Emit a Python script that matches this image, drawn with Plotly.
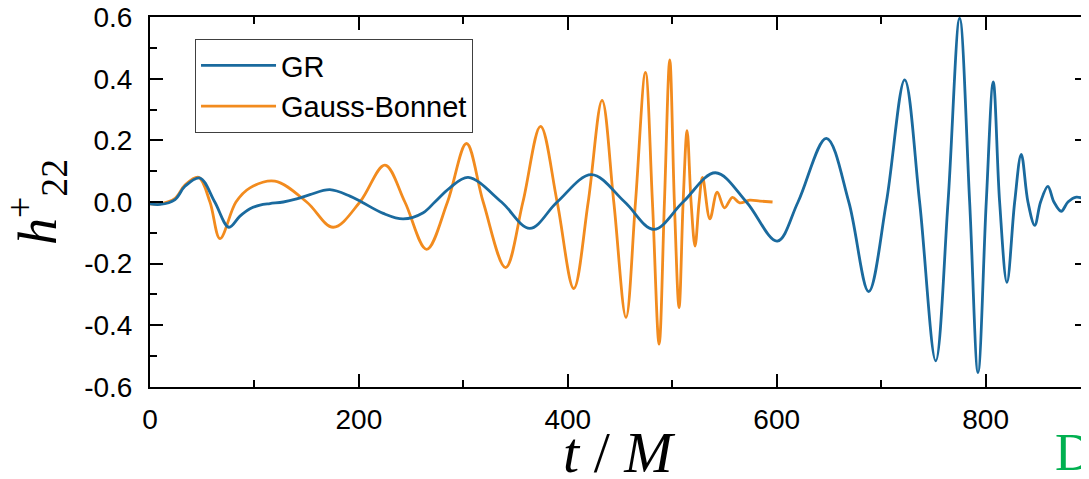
import plotly.graph_objects as go

# ---- data ----
gr_t = [0, 9.6, 24, 33.5, 47.8, 62, 75.5, 86.1, 95.7, 105.3, 114.8, 127.6, 140.4, 153.1, 172.2,
        191.4, 202.6, 223.3, 242.4, 261.6, 272.7, 287.1, 304.6, 336.5, 363.6, 389.8, 422.6,
        454.5, 482.3, 510.3, 541.3, 571, 600.5, 620.4, 647.5, 669, 688, 705, 722.5, 736.8,
        752.2, 764, 775.1, 784.7, 792.7, 800.6, 807.3, 813.4, 820.4, 827.8, 834.1, 840.5,
        847, 852.6, 859.6, 865.4, 872.4, 878.8, 886.8, 898]
gr_h = [-0.006, -0.008, 0.008, 0.051, 0.078, 0.0, -0.082, -0.046, -0.022, -0.010, -0.005, 0.0,
        0.010, 0.024, 0.040, 0.019, 0.0, -0.037, -0.055, -0.035, 0.0, 0.046, 0.080, 0.0, -0.086,
        0.0, 0.089, 0.0, -0.089, 0.0, 0.095, 0.0, -0.127, 0.0, 0.207, 0.0, -0.291, 0.0, 0.397,
        0.0, -0.516, 0.0, 0.597, 0.0, -0.554, 0.0, 0.390, 0.0, -0.261, 0.0, 0.155, 0.0, -0.076,
        0.0, 0.051, 0.0, -0.030, 0.0, 0.016, 0.005]

gb_t = [0, 9.6, 24, 33.5, 46.5, 57.4, 67, 82.3, 95.7, 119.6, 150, 175.4, 201, 224.9, 244,
        264.8, 284.8, 303, 319, 340.4, 357, 373.9, 389.8, 405.7, 419.5, 432.8, 444, 455.7,
        464.8, 474.3, 481, 487.4, 492.5, 497.6, 502, 506.5, 510.4, 514.2, 518, 521.8, 525.7,
        529, 536, 543, 550, 557.6, 564.6, 574, 584, 596]
gb_h = [-0.006, -0.006, 0.012, 0.055, 0.080, 0.0, -0.119, 0.0, 0.046, 0.068, 0.0, -0.082, 0.0,
        0.120, 0.0, -0.154, 0.0, 0.190, 0.0, -0.213, 0.0, 0.246, 0.0, -0.281, 0.0, 0.330, 0.0,
        -0.375, 0.0, 0.421, 0.0, -0.462, 0.0, 0.462, 0.0, -0.343, 0.0, 0.232, 0.0, -0.143, 0.0,
        0.080, -0.055, 0.032, -0.019, 0.015, -0.003, 0.006, 0.003, 0.0]

x_ticks = [0, 200, 400, 600, 800]
x_ticktext = ["0", "200", "400", "600", "800"]
y_ticks = [-0.6, -0.4, -0.2, 0.0, 0.2, 0.4, 0.6]
y_ticktext = ["-0.6", "-0.4", "-0.2", "0.0", "0.2", "0.4", "0.6"]

BLUE = "#1a6a9e"
ORANGE = "#f28b1e"
SANS = "Liberation Sans, Arial, sans-serif"
SERIF = "Liberation Serif, Times New Roman, serif"

fig = go.Figure()
fig.add_trace(go.Scatter(x=gb_t, y=gb_h, mode="lines", name="Gauss-Bonnet",
                         line=dict(color=ORANGE, width=2.8, shape="spline", smoothing=1.0)))
fig.add_trace(go.Scatter(x=gr_t, y=gr_h, mode="lines", name="GR",
                         line=dict(color=BLUE, width=2.8, shape="spline", smoothing=1.0)))

fig.update_layout(
    # the page body adds an 8 px margin, so the figure is 8 px smaller each way
    width=1081, height=471,
    margin=dict(l=142, r=1, t=9, b=92, pad=0, autoexpand=False),
    paper_bgcolor="white", plot_bgcolor="white",
    xaxis=dict(
        range=[0, 898], tickvals=x_ticks, ticktext=x_ticktext,
        showline=True, linewidth=2, linecolor="black", mirror="ticks",
        ticks="inside", ticklen=13, tickwidth=2, tickcolor="black",
        minor=dict(ticks="inside", ticklen=7, tickwidth=2, tickcolor="black",
                   tick0=0, dtick=100),
        showgrid=False, zeroline=False, ticklabelstandoff=6,
        ticklabeloverflow="allow", automargin=False,
        tickfont=dict(family=SANS, size=28, color="black"),
    ),
    yaxis=dict(
        range=[-0.601, 0.601], tickvals=y_ticks, ticktext=y_ticktext,
        showline=True, linewidth=2, linecolor="black", mirror="ticks",
        ticks="inside", ticklen=13, tickwidth=2, tickcolor="black",
        minor=dict(ticks="inside", ticklen=7, tickwidth=2, tickcolor="black",
                   tick0=0, dtick=0.1),
        showgrid=False, zeroline=False, ticklabelstandoff=10,
        ticklabeloverflow="allow", automargin=False,
        tickfont=dict(family=SANS, size=28, color="black"),
    ),
    showlegend=True,
    legend=dict(x=0.048, y=0.9405, xanchor="left", yanchor="top",
                bordercolor="#404040", borderwidth=1, bgcolor="white",
                font=dict(family=SANS, size=29, color="black"),
                traceorder="reversed", itemwidth=75, tracegroupgap=0),
    annotations=[
        dict(text="<i>h</i><sup>+</sup><sub>22</sub>", xref="paper", yref="paper",
             x=0, y=0.5, xanchor="center", yanchor="middle", xshift=-113,
             textangle=-90, showarrow=False,
             font=dict(family=SERIF, size=54, color="black")),
        dict(text="<i>t</i> / <i>M</i>", xref="paper", yref="paper",
             x=0.5, y=-0.178, xanchor="center", yanchor="middle",
             showarrow=False, font=dict(family=SERIF, size=58, color="black")),
        dict(text="D", xref="paper", yref="paper",
             x=0.985, y=-0.178, xanchor="center", yanchor="middle",
             showarrow=False, font=dict(family=SERIF, size=52, color="#00b050")),
    ],
)

fig.write_html("out.html")
